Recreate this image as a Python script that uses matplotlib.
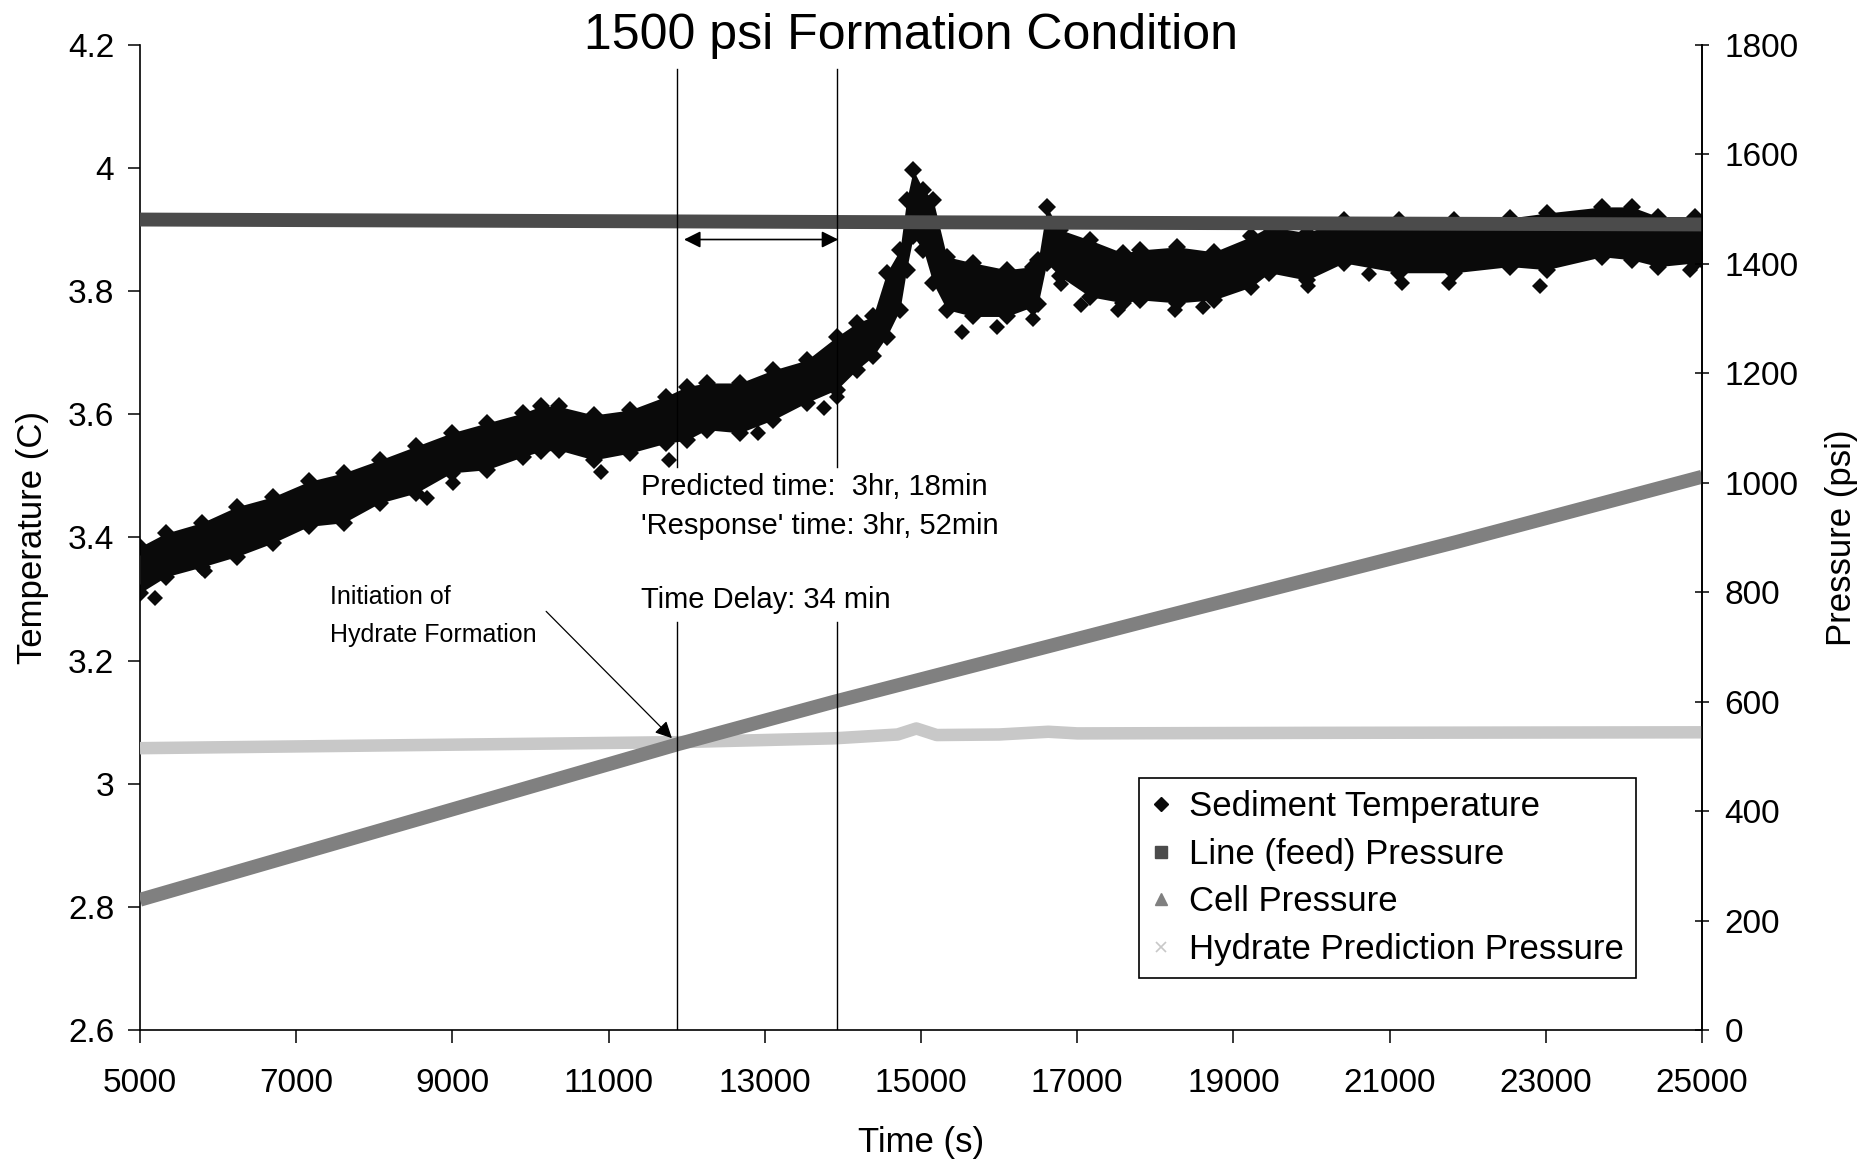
import matplotlib
matplotlib.use("Agg")
import matplotlib.pyplot as plt
from matplotlib.lines import Line2D

plt.rcParams["font.family"] = ["Liberation Sans", "DejaVu Sans"]

# Sediment temperature cloud: time (s), lower / upper edge (C)
temp_time = [5000, 5330, 5790, 6240, 6700, 7160, 7610, 8070, 8530, 8990,
             9440, 9900, 10130, 10360, 10810, 11270, 11730, 12000, 12255, 12680,
             13105, 13535, 13920, 14175, 14385, 14560, 14730, 14815, 14900, 15030,
             15155, 15330, 15670, 16095, 16435, 16500, 16610, 16780, 17165, 17590,
             17800, 18280, 18750, 19230, 19460, 19940, 20410, 21120, 21830, 22540,
             23010, 23720, 24100, 24440, 24910, 25000]
temp_low = [3.310, 3.336, 3.352, 3.369, 3.391, 3.418, 3.424, 3.456, 3.472, 3.505,
            3.510, 3.531, 3.540, 3.542, 3.526, 3.537, 3.553, 3.558, 3.575, 3.570,
            3.591, 3.619, 3.640, 3.672, 3.694, 3.726, 3.770, 3.835, 3.889, 3.867,
            3.813, 3.770, 3.759, 3.759, 3.775, 3.780, 3.846, 3.824, 3.791, 3.781,
            3.786, 3.781, 3.786, 3.807, 3.830, 3.818, 3.846, 3.830, 3.830, 3.840,
            3.835, 3.856, 3.851, 3.840, 3.846, 3.850]
temp_high = [3.385, 3.407, 3.424, 3.450, 3.466, 3.491, 3.505, 3.526, 3.548, 3.570,
             3.586, 3.602, 3.613, 3.613, 3.599, 3.607, 3.629, 3.645, 3.651, 3.651,
             3.672, 3.688, 3.726, 3.748, 3.759, 3.830, 3.867, 3.948, 3.997, 3.965,
             3.948, 3.856, 3.846, 3.835, 3.840, 3.850, 3.937, 3.900, 3.883, 3.862,
             3.867, 3.872, 3.864, 3.889, 3.905, 3.895, 3.916, 3.916, 3.916, 3.919,
             3.927, 3.937, 3.937, 3.921, 3.921, 3.905]

# stray temperature points below the cloud
stray_time = [5190, 5830, 8670, 9010, 10900, 11770, 12910, 13760, 13920, 15520,
              15970, 16430, 16790, 17050, 17520, 18250, 18610, 19960, 20740, 21160,
              21760, 22930, 24850]
stray_temp = [3.302, 3.346, 3.464, 3.489, 3.507, 3.526, 3.570, 3.610, 3.629, 3.734,
              3.742, 3.755, 3.812, 3.778, 3.770, 3.770, 3.775, 3.809, 3.828, 3.813,
              3.813, 3.809, 3.835]

# pressures (psi)
feed_time = [5000, 15000, 25000]
feed_psi = [1481, 1476, 1472]

cell_time = [5000, 11880, 13890, 17930, 21860, 25000]
cell_psi = [238, 522, 600, 749, 892, 1011]

hyd_time = [5000, 11880, 13890, 14700, 14940, 15200, 16000, 16630, 17000, 20000, 25000]
hyd_psi = [515, 526, 533, 540, 551, 539, 540, 545, 542, 543, 544]

x_ticks = list(range(5000, 25001, 2000))
t_ticks = [2.6, 2.8, 3.0, 3.2, 3.4, 3.6, 3.8, 4.0, 4.2]
t_tick_labels = ["2.6", "2.8", "3", "3.2", "3.4", "3.6", "3.8", "4", "4.2"]
p_ticks = list(range(0, 1801, 200))

predicted_line = 11880
response_line = 13920

fig = plt.figure(figsize=(18.62, 11.59), dpi=100)
ax1 = fig.add_axes([0.0752, 0.1113, 0.8389, 0.8499])
ax2 = ax1.twinx()

# temperature cloud
ax1.fill_between(temp_time, temp_low, temp_high, color="#0a0a0a", lw=0)
ax1.plot(temp_time, temp_low, "D", color="#0a0a0a", ms=9, mew=0)
ax1.plot(temp_time, temp_high, "D", color="#0a0a0a", ms=9, mew=0)
ax1.plot(stray_time, stray_temp, "D", color="#0a0a0a", ms=8, mew=0)

# pressure traces
ax2.plot(hyd_time, hyd_psi, color="#c8c8c8", lw=9, solid_capstyle="butt")
ax2.plot(cell_time, cell_psi, color="#808080", lw=10, solid_capstyle="butt")
ax2.plot(feed_time, feed_psi, color="#4b4b4b", lw=10, solid_capstyle="butt")

# axes limits / ticks
ax1.set_xlim(5000, 25000)
ax1.set_ylim(2.6, 4.2)
ax2.set_ylim(0, 1800)
ax1.set_xticks(x_ticks)
ax1.set_xticklabels([str(v) for v in x_ticks])
ax1.set_yticks(t_ticks)
ax1.set_yticklabels(t_tick_labels)
ax2.set_yticks(p_ticks)

for ax in (ax1, ax2):
    ax.spines["top"].set_visible(False)
    for s in ax.spines.values():
        s.set_linewidth(1.2)
ax2.spines["left"].set_visible(False)
ax2.spines["bottom"].set_visible(False)

ax1.tick_params(axis="x", direction="out", length=9.5, width=1.1, pad=18, labelsize=24)
ax1.tick_params(axis="y", direction="out", length=8.5, width=1.1, pad=10, labelsize=24)
ax2.tick_params(axis="y", direction="inout", length=10, width=1.1, pad=11, labelsize=24)

ax1.set_xlabel("Time (s)", fontsize=25)
ax1.xaxis.set_label_coords(0.5, -0.097)
ax1.set_ylabel("Temperature (C)", fontsize=25)
ax1.yaxis.set_label_coords(-0.058, 0.5)
ax2.set_ylabel("Pressure (psi)", fontsize=25)
ax2.yaxis.set_label_coords(1.079, 0.5)

fig.text(0.489, 1 - 36 / 1159, "1500 psi Formation Condition", fontsize=36,
         ha="center", va="center")

# annotations, drawn above the pressure traces
tr = ax1.transData
for xv in (predicted_line, response_line):
    ax2.plot([xv, xv], [4.161, 3.515], color="black", lw=1, transform=tr)
    ax2.plot([xv, xv], [3.263, 2.6], color="black", lw=1, transform=tr)

ax2.annotate("", xy=(11965, 3.884), xytext=(13940, 3.884), xycoords=tr, textcoords=tr,
             arrowprops=dict(arrowstyle="<|-|>", color="black", lw=1.2,
                             mutation_scale=25, shrinkA=0, shrinkB=0))
ax2.annotate("", xy=(11810, 3.074), xytext=(10200, 3.280), xycoords=tr, textcoords=tr,
             arrowprops=dict(arrowstyle="-|>", color="black", lw=0.9,
                             mutation_scale=25, shrinkA=0, shrinkB=0))

ax2.text(11415, 3.482, "Predicted time:  3hr, 18min", transform=tr, fontsize=21,
         va="center")
ax2.text(11415, 3.419, "'Response' time: 3hr, 52min", transform=tr, fontsize=21,
         va="center")
ax2.text(11415, 3.299, "Time Delay: 34 min", transform=tr, fontsize=21, va="center")
ax2.text(7433, 3.303, "Initiation of", transform=tr, fontsize=18, va="center")
ax2.text(7433, 3.242, "Hydrate Formation", transform=tr, fontsize=18, va="center")

handles = [
    Line2D([], [], ls="none", marker="D", color="#0a0a0a", ms=7),
    Line2D([], [], ls="none", marker="s", color="#4b4b4b", ms=8),
    Line2D([], [], ls="none", marker="^", color="#808080", ms=8),
    Line2D([], [], ls="none", marker="x", color="#c8c8c8", ms=7, mew=1.2),
]
labels = ["Sediment Temperature", "Line (feed) Pressure", "Cell Pressure",
          "Hydrate Prediction Pressure"]
leg = fig.legend(handles, labels, loc="upper right",
                 bbox_to_anchor=(1636 / 1862, 1 - 778 / 1159),
                 bbox_transform=fig.transFigure, fontsize=25, frameon=True,
                 fancybox=False, edgecolor="black", framealpha=1,
                 handlelength=0.6, handletextpad=0.5, borderpad=0.35,
                 labelspacing=0.42, borderaxespad=0)
leg.get_frame().set_linewidth(1.2)

fig.savefig("out.png", dpi=100)
